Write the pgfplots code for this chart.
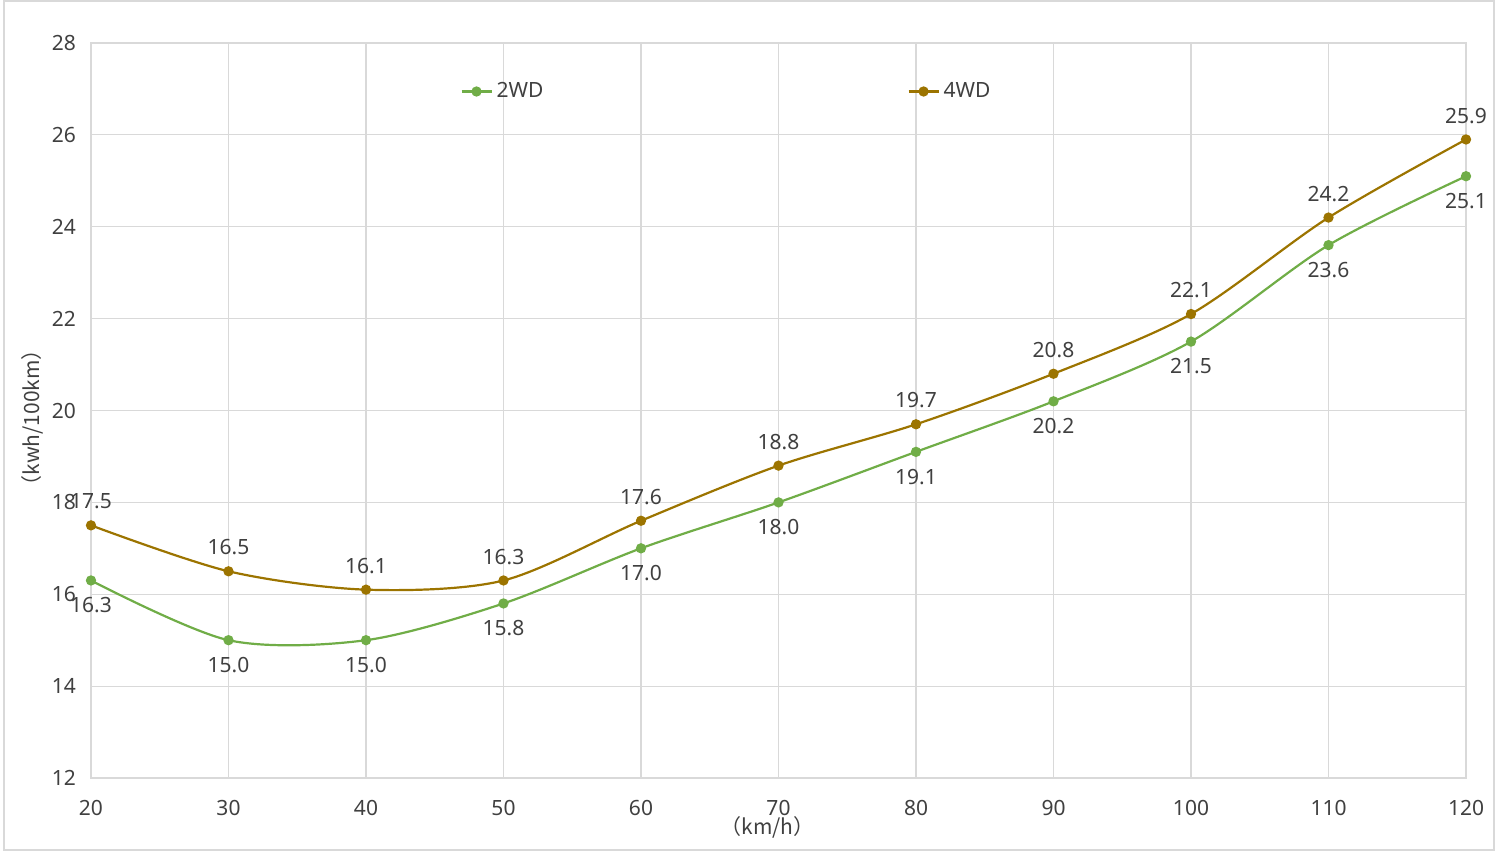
\documentclass[border=0pt]{standalone}
\usepackage{fontspec}
\setmainfont{Noto Sans}
\newfontfamily\cjk{Noto Sans CJK SC}
\usepackage{pgfplots}
\pgfplotsset{compat=1.18}
\definecolor{gr}{HTML}{70AD47}
\definecolor{br}{HTML}{9C7400}
\definecolor{txt}{HTML}{404040}
\definecolor{grd}{HTML}{D9D9D9}
\pgfplotstableread{
x y
20 16.3
30 15.0
40 15.0
50 15.8
60 17.0
70 18.0
80 19.1
90 20.2
100 21.5
110 23.6
120 25.1
}\twowd
\pgfplotstableread{
x y
20 17.5
30 16.5
40 16.1
50 16.3
60 17.6
70 18.8
80 19.7
90 20.8
100 22.1
110 24.2
120 25.9
}\fourwd
\begin{document}
\begin{tikzpicture}
\begin{axis}[
  scale only axis, width=687.5pt, height=367.5pt,
  xmin=20, xmax=120, ymin=12, ymax=28,
  xtick={20,30,...,120}, ytick={12,14,...,28},
  grid=major, major grid style={grd, line width=0.6pt},
  axis line style={grd, line width=0.6pt},
  major tick length=0pt,
  tick label style={font=\fontsize{10.5}{12}\selectfont, text=txt},
  /pgf/number format/assume math mode=true,
  xticklabel style={yshift=-7.5pt},
  yticklabel style={xshift=-4pt},
  clip=false,
  legend style={draw=none, fill=none, at={(0.264,0.934)}, anchor=west,
    font=\fontsize{10.5}{12}\selectfont, text=txt},
  legend columns=2,
  legend cell align=left,
  /tikz/every even column/.append style={column sep=180pt},
  legend image code/.code={\draw[#1] (0pt,0pt) -- (15pt,0pt); \fill[#1] (7.5pt,0pt) circle (2pt);},
  nodes near coords={\pgfmathprintnumber[fixed,fixed zerofill,precision=1]{\pgfplotspointmeta}},
  every node near coord/.append style={font=\fontsize{10.5}{12}\selectfont, text=txt, inner sep=1.5pt},
]
\addplot[gr, line width=1.1pt, smooth, tension=0.5, mark=*, mark size=2pt, mark options={fill=gr, draw=gr},
  every node near coord/.append style={anchor=north, yshift=-6.5pt}] table {\twowd};
\addlegendentry{2WD}
\addplot[br, line width=1.1pt, smooth, tension=0.5, mark=*, mark size=2pt, mark options={fill=br, draw=br},
  every node near coord/.append style={anchor=south, yshift=6pt}] table {\fourwd};
\addlegendentry{4WD}
\node[inner sep=0.5pt, text=txt, font=\fontsize{10.5}{12}\selectfont] at (axis cs:69.2,12) [yshift=-24.5pt] {\cjk （km/h）};
\node[xshift=-29.5pt, rotate=90, text=txt, font=\fontsize{10.5}{12}\selectfont] at (axis cs:20,19.84) {\cjk （kwh/100km）};
\end{axis}
\path (current axis.south west) ++(-45.5pt,-37pt) coordinate (bl);
\path (current axis.north east) ++(16pt,21.5pt) coordinate (tr);
\pgfresetboundingbox
\path (bl) rectangle (tr);
\draw[grd, line width=0.8pt] ([shift={(2pt,1pt)}]bl) rectangle ([shift={(-2pt,-0.5pt)}]tr);
\end{tikzpicture}
\end{document}
